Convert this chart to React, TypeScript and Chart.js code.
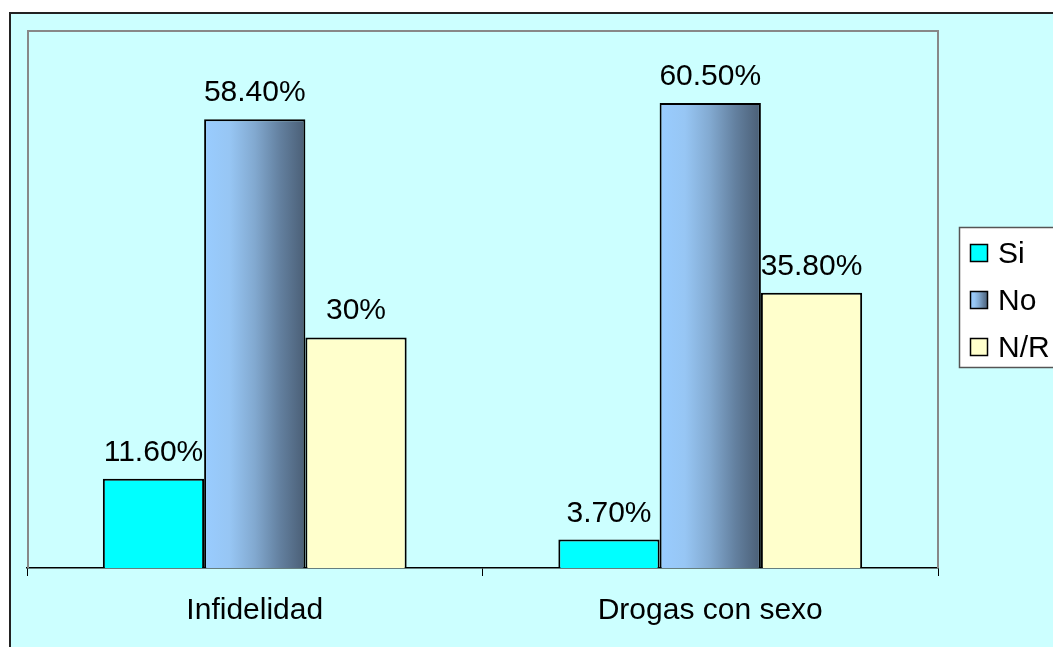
import React, { useEffect, useRef } from "react";
import { Chart, registerables } from "chart.js";

Chart.register(...registerables);

const categories = ["Infidelidad", "Drogas con sexo"];
const seriesNames = ["Si", "No", "N/R"];
const siValues = [11.6, 3.7];
const noValues = [58.4, 60.5];
const nrValues = [30, 35.8];
const siLabels = ["11.60%", "3.70%"];
const noLabels = ["58.40%", "60.50%"];
const nrLabels = ["30%", "35.80%"];

const FONT = "'Liberation Sans', Arial, sans-serif";
const W = 1053;
const H = 647;

function makeGradient(ctx: CanvasRenderingContext2D, x0: number, x1: number) {
  const g = ctx.createLinearGradient(x0, 0, x1, 0);
  g.addColorStop(0, "#99CCFF");
  g.addColorStop(0.25, "#97C6F4");
  g.addColorStop(0.5, "#82A9D0");
  g.addColorStop(0.75, "#63809F");
  g.addColorStop(1, "#4A5E75");
  return g;
}

export default function App() {
  const ref = useRef<HTMLCanvasElement | null>(null);

  useEffect(() => {
    if (!ref.current) return;
    const labelSets = [siLabels, noLabels, nrLabels];

    const framePlugin = {
      id: "frame",
      beforeDraw(chart: any) {
        const ctx = chart.ctx;
        ctx.save();
        ctx.fillStyle = "#FFFFFF";
        ctx.fillRect(0, 0, W, H);
        ctx.fillStyle = "#CCFFFF";
        ctx.fillRect(10, 13, W, H);
        ctx.strokeStyle = "#222222";
        ctx.lineWidth = 2;
        ctx.beginPath();
        ctx.moveTo(10, H + 5);
        ctx.lineTo(10, 13);
        ctx.lineTo(W + 5, 13);
        ctx.stroke();
        ctx.restore();
      },
      beforeDatasetsDraw(chart: any) {
        const ctx = chart.ctx;
        const a = chart.chartArea;
        ctx.save();
        ctx.strokeStyle = "#888888";
        ctx.lineWidth = 2;
        ctx.beginPath();
        ctx.moveTo(a.left + 1, a.bottom);
        ctx.lineTo(a.left + 1, a.top + 1);
        ctx.lineTo(a.right, a.top + 1);
        ctx.lineTo(a.right, a.bottom);
        ctx.stroke();
        ctx.restore();
        const meta = chart.getDatasetMeta(1);
        meta.data.forEach((el: any) => {
          const x0 = el.x - el.width / 2;
          const x1 = el.x + el.width / 2;
          el.options = Object.assign({}, el.options, {
            backgroundColor: makeGradient(ctx, x0, x1),
          });
        });
      },
      afterDraw(chart: any) {
        const ctx = chart.ctx;
        ctx.save();
        // value labels
        ctx.fillStyle = "#000";
        ctx.font = `30px ${FONT}`;
        ctx.textAlign = "center";
        ctx.textBaseline = "alphabetic";
        for (let d = 0; d < 3; d++) {
          const meta = chart.getDatasetMeta(d);
          meta.data.forEach((el: any, i: number) => {
            ctx.fillText(labelSets[d][i], el.x, el.y - 18);
          });
        }
        // legend
        ctx.fillStyle = "#FFFFFF";
        ctx.fillRect(959, 227, 120, 140);
        ctx.strokeStyle = "#555555";
        ctx.lineWidth = 1.5;
        ctx.strokeRect(959.5, 227.5, 120, 140);
        const ys = [253, 300, 347];
        const fills: any[] = ["#00FFFF", makeGradient(ctx, 970, 988), "#FFFFCC"];
        for (let i = 0; i < 3; i++) {
          ctx.fillStyle = fills[i];
          ctx.fillRect(970, ys[i] - 9, 18, 18);
          ctx.strokeStyle = "#000";
          ctx.lineWidth = 1.5;
          ctx.strokeRect(970.5, ys[i] - 8.5, 17, 17);
          ctx.fillStyle = "#000";
          ctx.textAlign = "left";
          ctx.textBaseline = "alphabetic";
          ctx.font = `30px ${FONT}`;
          ctx.fillText(seriesNames[i], 998, ys[i] + 10);
        }
        ctx.restore();
      },
    };

    const chart = new Chart(ref.current, {
      type: "bar",
      data: {
        labels: categories,
        datasets: [
          { label: seriesNames[0], data: siValues, backgroundColor: "#00FFFF", borderColor: "#000", borderWidth: 2 },
          { label: seriesNames[1], data: noValues, backgroundColor: "#7FA6CC", borderColor: "#000", borderWidth: 2 },
          { label: seriesNames[2], data: nrValues, backgroundColor: "#FFFFCC", borderColor: "#000", borderWidth: 2 },
        ],
      },
      options: {
        responsive: false,
        animation: false,
        devicePixelRatio: 1,
        layout: { padding: { left: 27, top: 30, right: 115, bottom: 0 } },
        plugins: { legend: { display: false }, tooltip: { enabled: false } },
        datasets: { bar: { categoryPercentage: 0.667, barPercentage: 1 } },
        scales: {
          x: {
            grid: {
              display: true,
              drawOnChartArea: false,
              drawTicks: true,
              tickLength: 8,
              color: "#000",
              lineWidth: 1,
              offset: true,
            },
            border: { display: true, color: "#000", width: 1.5 },
            ticks: { color: "#000", font: { family: FONT, size: 30 }, padding: 17, maxRotation: 0 },
            afterFit: (s: any) => {
              s.height = 79;
            },
          },
          y: { display: false, min: 0, max: 70 },
        },
      } as any,
      plugins: [framePlugin],
    });
    return () => chart.destroy();
  }, []);

  return (
    <div style={{ position: "fixed", left: 0, top: 0, width: W, height: H }}>
      <canvas ref={ref} width={W} height={H} style={{ width: W, height: H, display: "block" }} />
    </div>
  );
}
